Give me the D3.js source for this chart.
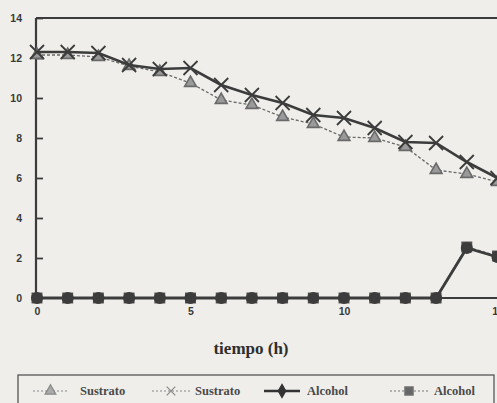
<!DOCTYPE html>
<html><head><meta charset="utf-8">
<script src="https://cdn.jsdelivr.net/npm/d3@7"></script>
<style>
html,body{margin:0;padding:0;background:#efeeea;}
svg{display:block;}
</style></head>
<body>
<svg id="c" width="497" height="403"></svg>
<script>
const hours = [0,1,2,3,4,5,6,7,8,9,10,11,12,13,14,15];
const sustratoA = [12.15,12.15,12.05,11.6,11.3,10.75,9.9,9.65,9.05,8.7,8.05,8.0,7.55,6.4,6.2,5.8];
const sustratoB = [12.3,12.3,12.25,11.65,11.45,11.5,10.65,10.15,9.75,9.15,9.0,8.5,7.8,7.75,6.8,6.0];
const alcoholA = [0,0,0,0,0,0,0,0,0,0,0,0,0,0,2.5,2.05];
const alcoholB = [0,0,0,0,0,0,0,0,0,0,0,0,0,0,2.55,2.1];
const yTicks = [0,2,4,6,8,10,12,14];
const xTicks = [0,5,10,15];
const legendLabels = ["Sustrato","Sustrato","Alcohol","Alcohol"];
const xTitle = "tiempo (h)";

const svg = d3.select("#c");
const x = d3.scaleLinear().domain([0,16]).range([37, 37+16*30.7]);
const y = d3.scaleLinear().domain([0,14]).range([298, 18]);
const dark = "#3c3c3c", mid = "#6a6a6a";

// frame
const g = svg.append("g");
g.append("line").attr("x1",x(0)-1).attr("x2",510).attr("y1",y(14)).attr("y2",y(14)).attr("stroke",dark).attr("stroke-width",2.2);
g.append("line").attr("x1",x(0)-1).attr("x2",x(0)-1).attr("y1",y(14)).attr("y2",y(0)).attr("stroke",dark).attr("stroke-width",2.2);
g.append("line").attr("x1",x(0)-1).attr("x2",510).attr("y1",y(0)).attr("y2",y(0)).attr("stroke",dark).attr("stroke-width",2);

// y axis
const yAxis = d3.axisRight(y).tickValues(yTicks).tickSize(7).tickFormat("");
const ya = g.append("g").attr("transform",`translate(${x(0)-1},0)`).call(yAxis);
ya.select(".domain").remove();
ya.selectAll(".tick line").attr("stroke",dark).attr("stroke-width",1.8);
g.selectAll(".ylab").data(yTicks).join("text")
  .attr("x",22).attr("y",d=>y(d)+3.8).attr("text-anchor","end")
  .attr("font-family","Liberation Sans, Arial, sans-serif").attr("font-size",10.5).attr("font-weight","bold")
  .attr("fill","#3a3a3a").text(d=>d);

// x axis labels
const xAxis = d3.axisBottom(x).tickValues(xTicks).tickSize(0).tickFormat(d=>d);
const xa = g.append("g").attr("transform",`translate(0,${y(0)})`).call(xAxis);
xa.select(".domain").remove();
xa.selectAll(".tick text").attr("dy","1.35em").attr("font-family","Liberation Sans, Arial, sans-serif")
  .attr("font-size",10.5).attr("font-weight","bold").attr("fill","#3a3a3a");

const line = d3.line().x((d,i)=>x(hours[i])).y(d=>y(d));

// lower sustrato (triangles, dashed light)
g.append("path").datum(sustratoA).attr("d",line).attr("fill","none").attr("stroke",mid)
  .attr("stroke-width",1.3).attr("stroke-dasharray","3,2");
const tri = d3.symbol().type(d3.symbolTriangle).size(60);
g.selectAll(".tri").data(sustratoA).join("path")
  .attr("transform",(d,i)=>`translate(${x(hours[i])},${y(d)})`).attr("d",tri)
  .attr("fill","#9a9a9a").attr("stroke",mid).attr("stroke-width",1.6);

// upper sustrato (asterisks, solid dark)
g.append("path").datum(sustratoB).attr("d",line).attr("fill","none").attr("stroke",dark).attr("stroke-width",2.6);
const star = d3.symbol().type(d3.symbolTimes).size(130);
g.selectAll(".star").data(sustratoB).join("path")
  .attr("transform",(d,i)=>`translate(${x(hours[i])},${y(d)})`).attr("d",star)
  .attr("fill",dark).attr("stroke",dark).attr("stroke-width",1.8);

// alcohol B (squares, dashed)
g.append("path").datum(alcoholB).attr("d",line).attr("fill","none").attr("stroke",mid)
  .attr("stroke-width",1.5).attr("stroke-dasharray","3,2");
const sq = d3.symbol().type(d3.symbolSquare).size(120);
g.selectAll(".sq").data(alcoholB).join("path")
  .attr("transform",(d,i)=>`translate(${x(hours[i])},${y(d)})`).attr("d",sq).attr("fill","#505050");

// alcohol A (diamond, solid)
g.append("path").datum(alcoholA).attr("d",line).attr("fill","none").attr("stroke",dark).attr("stroke-width",2.8);
const dia = d3.symbol().type(d3.symbolCircle).size(115);
g.selectAll(".dia").data(alcoholA).join("path")
  .attr("transform",(d,i)=>`translate(${x(hours[i])},${y(d)})`).attr("d",dia).attr("fill",dark);

// x title
svg.append("text").attr("x",251).attr("y",354).attr("text-anchor","middle")
  .attr("font-family","Liberation Serif, Times New Roman, serif").attr("font-size",17).attr("font-weight","bold")
  .attr("fill","#2e2e2e").text(xTitle);

// legend
const lg = svg.append("g");
lg.append("rect").attr("x",18).attr("y",375).attr("width",476).attr("height",40)
  .attr("fill","none").attr("stroke","#555").attr("stroke-width",1.3);
const items = [
  {x0:33,x1:68,tx:80,dash:"2,2",col:"#888",sym:d3.symbolTriangle,fill:"#aaa",sw:1},
  {x0:152,x1:190,tx:195,dash:"2,2",col:"#888",sym:d3.symbolTimes,fill:"#888",sw:1},
  {x0:264,x1:300,tx:307,dash:null,col:"#333",sym:d3.symbolDiamond,fill:"#333",sw:2.5},
  {x0:390,x1:428,tx:434,dash:"2,2",col:"#777",sym:d3.symbolSquare,fill:"#666",sw:1}
];
items.forEach((it,i)=>{
  const cy = 391;
  lg.append("line").attr("x1",it.x0).attr("x2",it.x1).attr("y1",cy).attr("y2",cy)
    .attr("stroke",it.col).attr("stroke-width",it.sw).attr("stroke-dasharray",it.dash);
  lg.append("path").attr("transform",`translate(${(it.x0+it.x1)/2},${cy})`)
    .attr("d",d3.symbol().type(it.sym).size(i===3?70:50)())
    .attr("fill",it.fill).attr("stroke",it.col).attr("stroke-width",1.2);
  lg.append("text").attr("x",it.tx).attr("y",cy+4).attr("font-family","Liberation Serif, Times New Roman, serif")
    .attr("font-size",12.5).attr("font-weight","bold").attr("fill","#4a4a4a").text(legendLabels[i]);
});
</script>
</body></html>
